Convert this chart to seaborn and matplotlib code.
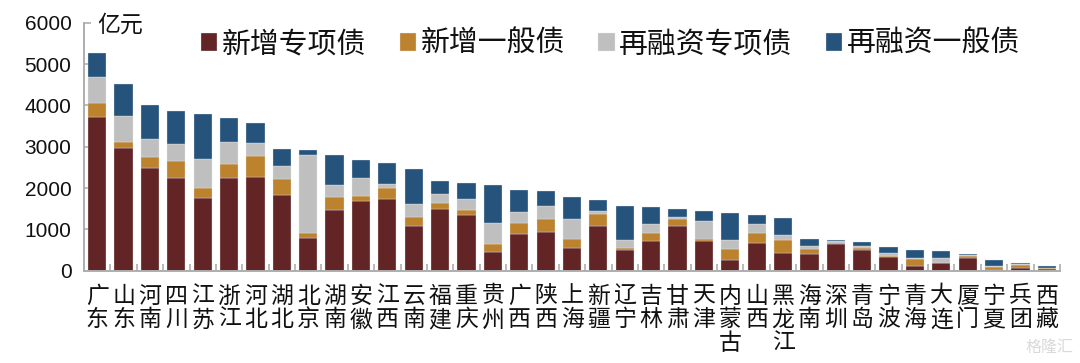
import matplotlib
matplotlib.use("Agg")
import matplotlib.pyplot as plt
import seaborn as sns
import pandas as pd

regions = ["广东","山东","河南","四川","江苏","浙江","河北","湖北","北京","湖南","安徽","江西","云南","福建","重庆","贵州","广西","陕西","上海","新疆","辽宁","吉林","甘肃","天津","内蒙古","山西","黑龙江","海南","深圳","青岛","宁波","青海","大连","厦门","宁夏","兵团","西藏"]
new_special = [3710,2970,2475,2250,1750,2250,2275,1840,780,1475,1695,1730,1090,1490,1347,460,895,944,548,1089,492,718,1073,718,258,661,435,411,637,492,339,113,177,315,16,65,32]
new_general = [340,135,285,395,260,340,490,370,140,305,110,280,200,147,121,177,250,298,226,290,56,202,169,56,258,250,307,105,24,64,24,169,17,40,73,72,33]
refi_special = [635,635,435,410,690,515,315,320,1870,290,445,95,323,210,258,516,266,314,468,56,202,201,48,436,226,210,121,89,57,49,72,33,121,24,24,24,8]
refi_general = [580,775,805,800,1100,580,485,405,120,720,430,490,837,323,387,920,549,379,548,267,806,411,210,234,645,218,411,153,16,89,146,177,153,32,153,24,48]
series_names = ["新增专项债","新增一般债","再融资专项债","再融资一般债"]
series_values = [new_special, new_general, refi_special, refi_general]
colors = ["#622424","#BC822E","#BFBFBF","#25537B"]

sns.set_theme(style="white")
plt.rcParams['font.family'] = ['Noto Sans CJK SC','DejaVu Sans']

fig = plt.figure(figsize=(10.8,3.63), dpi=100)
ax = fig.add_axes([84/1080, 1-270.7/363, 976/1080, 248/363])

labels = ["\n".join(r) for r in regions]
bottom = [0]*len(regions)
for name, vals, col in zip(series_names, series_values, colors):
    df = pd.DataFrame({"region":labels,"value":vals})
    sns.barplot(data=df, x="region", y="value", order=labels, color=col, saturation=1,
                width=0.69, bottom=bottom, ax=ax, label=name, edgecolor="#E4E8EC", linewidth=0.25, errorbar=None)
    bottom = [b+v for b,v in zip(bottom,vals)]

ax.set_xlim(-0.5,36.5)
ax.set_ylim(0,6000)
ax.set_xlabel(""); ax.set_ylabel("")
ax.set_yticks(range(0,6001,1000))
for s in ["top","right"]:
    ax.spines[s].set_visible(False)
for s in ["left","bottom"]:
    ax.spines[s].set_color("#AEAEAE"); ax.spines[s].set_linewidth(1.4)
ax.tick_params(axis="y", direction="in", length=5, width=1.2, color="#AEAEAE", left=True, pad=9)
ax.tick_params(axis="x", which="major", length=0, pad=10)
ax.set_xticks([i-0.5 for i in range(38)], minor=True)
ax.tick_params(axis="x", which="minor", direction="in", length=5, width=1.2, color="#AEAEAE", bottom=True)
for t in ax.get_yticklabels():
    t.set_fontfamily("Liberation Sans"); t.set_fontsize(15); t.set_color("#111111")
for t in ax.get_xticklabels():
    t.set_fontsize(16.5); t.set_color("#111111"); t.set_linespacing(1.04); t.set_verticalalignment("top")

fig.text(97/1080, 1-25/363, "亿元", fontsize=16.5, color="#111111", va="center", ha="left")

ax.legend(ncol=4, loc="center left", bbox_to_anchor=((201-84)/976, (270.7-44)/248), frameon=False,
          prop={"size":20.8}, handlelength=0.57, handleheight=0.57, handletextpad=0.15,
          columnspacing=1.16, borderaxespad=0, borderpad=0, labelcolor="#111111")

fig.text(1050/1080, 1-347/363, "格隆汇", fontsize=11.5, color="#D9D9D9", va="center", ha="center")
fig.savefig("out.png", dpi=100)
